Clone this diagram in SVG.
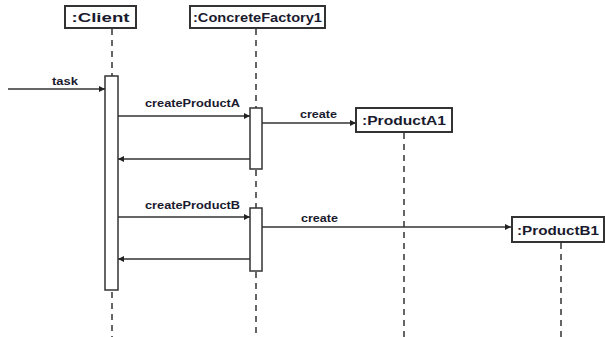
<svg xmlns="http://www.w3.org/2000/svg" width="605" height="337" viewBox="0 0 605 337">
  <defs>
    <marker id="arrow" viewBox="0 0 8 8" refX="8" refY="4" markerWidth="6" markerHeight="6" orient="auto" markerUnits="userSpaceOnUse">
      <path d="M0,0 L8,4 L0,8 z" fill="#222"/>
    </marker>
  </defs>
  <style>
    .box { fill: #fff; stroke: #333; stroke-width: 2; }
    .bar { fill: #fff; stroke: #333; stroke-width: 1.5; }
    .life { stroke: #333; stroke-width: 1.5; stroke-dasharray: 6 5; fill: none; }
    .msg { stroke: #333; stroke-width: 1.5; fill: none; marker-end: url(#arrow); }
    .name { font-family: "Liberation Sans", Arial, sans-serif; font-size: 13px; font-weight: bold; fill: #1a1a2e; text-anchor: middle; }
    .label { font-family: "Liberation Sans", Arial, sans-serif; font-size: 10px; font-weight: bold; fill: #1a1a2e; }
  </style>
  <rect width="605" height="337" fill="#fff"/>

  <g id="client">
    <line class="life" x1="112" y1="29" x2="112" y2="76"/>
    <line class="life" x1="112" y1="292" x2="112" y2="337"/>
    <rect class="box" x="65" y="6" width="71" height="22"/>
    <text class="name" x="100.5" y="22" textLength="58" lengthAdjust="spacingAndGlyphs">:Client</text>
    <rect class="bar" x="105" y="76" width="13" height="214"/>
  </g>

  <g id="factory">
    <line class="life" x1="256" y1="29" x2="256" y2="108"/>
    <line class="life" x1="256" y1="170" x2="256" y2="208"/>
    <line class="life" x1="256" y1="272" x2="256" y2="337"/>
    <rect class="box" x="190" y="6" width="135" height="22"/>
    <text class="name" x="257.5" y="22" textLength="129" lengthAdjust="spacingAndGlyphs">:ConcreteFactory1</text>
    <rect class="bar" x="250" y="108" width="12" height="61"/>
    <rect class="bar" x="250" y="208" width="12" height="63"/>
  </g>

  <g id="productA1">
    <line class="life" x1="404" y1="133" x2="404" y2="337"/>
    <rect class="box" x="356" y="108" width="96" height="24"/>
    <text class="name" x="404" y="125" textLength="84" lengthAdjust="spacingAndGlyphs">:ProductA1</text>
  </g>

  <g id="productB1">
    <line class="life" x1="561" y1="243" x2="561" y2="337"/>
    <rect class="box" x="512" y="217" width="92" height="25"/>
    <text class="name" x="558" y="235" textLength="82" lengthAdjust="spacingAndGlyphs">:ProductB1</text>
  </g>

  <g id="connectors">
    <line class="msg" x1="8" y1="89" x2="105" y2="89"/>
    <text class="label" x="52" y="85" textLength="26" lengthAdjust="spacingAndGlyphs">task</text>

    <line class="msg" x1="118" y1="116" x2="250" y2="116"/>
    <text class="label" x="145" y="107" textLength="95" lengthAdjust="spacingAndGlyphs">createProductA</text>

    <line class="msg" x1="262" y1="123" x2="356" y2="123"/>
    <text class="label" x="300" y="118" textLength="37" lengthAdjust="spacingAndGlyphs">create</text>

    <line class="msg" x1="250" y1="159" x2="118" y2="159"/>

    <line class="msg" x1="118" y1="217" x2="250" y2="217"/>
    <text class="label" x="145" y="209" textLength="95" lengthAdjust="spacingAndGlyphs">createProductB</text>

    <line class="msg" x1="262" y1="227" x2="511" y2="227"/>
    <text class="label" x="301" y="222" textLength="37" lengthAdjust="spacingAndGlyphs">create</text>

    <line class="msg" x1="250" y1="259" x2="118" y2="259"/>
  </g>
</svg>
